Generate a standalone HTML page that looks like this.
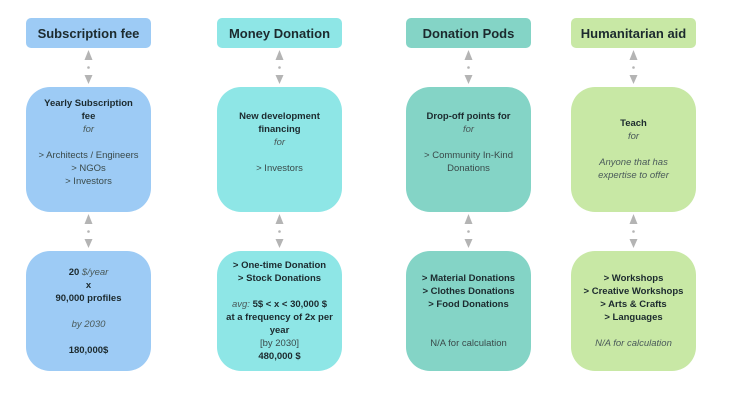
<!DOCTYPE html>
<html><head><style>
body{margin:0;width:730px;height:413px;background:#fff;position:relative;overflow:hidden;font-family:"Liberation Sans",sans-serif;color:#2a3a3a}
.h{position:absolute;top:18px;height:30px;width:125px;border-radius:5px;display:flex;align-items:center;justify-content:center;font-weight:bold;font-size:13px;color:#1c2a2e}
.b{position:absolute;width:125px;border-radius:24px}
.t{position:absolute;width:125px;text-align:center;font-size:9.5px;line-height:13px;color:#3a4a4a}
b{color:#1c2a2e}
i{color:#4a5a5a}
.c1{left:26px;background:#9dcbf5}.c2{left:217px;background:#8ee6e6}.c3{left:406px;background:#84d4c6}.c4{left:571px;background:#c8e8a5}
.m{top:87px;height:125px}.bt{top:251px;height:120px}
</style></head><body>
<div class="h c1">Subscription fee</div>
<div class="h c2">Money Donation</div>
<div class="h c3">Donation Pods</div>
<div class="h c4">Humanitarian aid</div>
<div class="b m c1"></div><div class="b m c2"></div><div class="b m c3"></div><div class="b m c4"></div>
<div class="b bt c1"></div><div class="b bt c2"></div><div class="b bt c3"></div><div class="b bt c4"></div>
<svg width="730" height="413" style="position:absolute;left:0;top:0">
<defs>
<g id="a" fill="#b4b4b4"><polygon points="-4,60 4,60 0,50"/><circle cx="0" cy="67.5" r="1.3"/><polygon points="-4,75 4,75 0,84"/></g>
</defs>
<use href="#a" x="88.5"/><use href="#a" x="279.5"/><use href="#a" x="468.5"/><use href="#a" x="633.5"/>
<use href="#a" x="88.5" y="164"/><use href="#a" x="279.5" y="164"/><use href="#a" x="468.5" y="164"/><use href="#a" x="633.5" y="164"/>
</svg>
<div class="t" style="left:26px;top:97px"><b>Yearly Subscription<br>fee</b><br><i>for</i><br><br>&gt; Architects / Engineers<br>&gt; NGOs<br>&gt; Investors</div>
<div class="t" style="left:217px;top:110px"><b>New development<br>financing</b><br><i>for</i><br><br>&gt; Investors</div>
<div class="t" style="left:406px;top:110px"><b>Drop-off points for</b><br><i>for</i><br><br>&gt; Community In-Kind<br>Donations</div>
<div class="t" style="left:571px;top:117px"><b>Teach</b><br><i>for</i><br><br><i>Anyone that has<br>expertise to offer</i></div>
<div class="t" style="left:26px;top:266px"><b>20</b> <i>$/year</i><br><b>x</b><br><b>90,000 profiles</b><br><br><i>by 2030</i><br><br><b>180,000$</b></div>
<div class="t" style="left:217px;top:259px"><b>&gt; One-time Donation<br>&gt; Stock Donations</b><br><br><i>avg:</i> <b>5$ &lt; x &lt; 30,000 $<br>at a frequency of 2x per<br>year</b><br>[by 2030]<br><b>480,000 $</b></div>
<div class="t" style="left:406px;top:272px"><b>&gt; Material Donations<br>&gt; Clothes Donations<br>&gt; Food Donations</b><br><br><br>N/A for calculation</div>
<div class="t" style="left:571px;top:272px"><b>&gt; Workshops<br>&gt; Creative Workshops<br>&gt; Arts &amp; Crafts<br>&gt; Languages</b><br><br><i>N/A for calculation</i></div>
</body></html>
